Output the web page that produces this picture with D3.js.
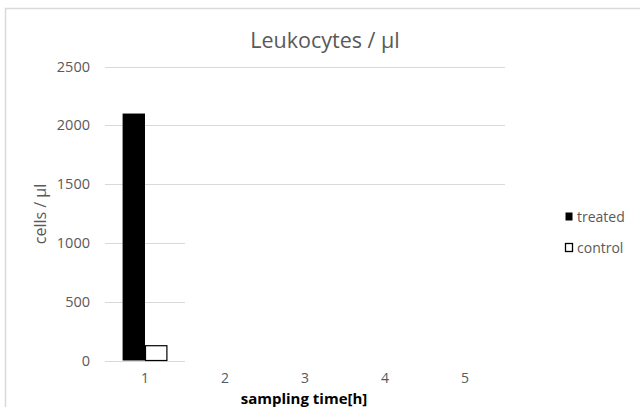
<!DOCTYPE html>
<html><head><meta charset="utf-8">
<script src="https://cdn.jsdelivr.net/npm/d3@7"></script>
<style>body{margin:0;background:#fff}svg{display:block}</style>
</head><body><svg width="640" height="407"></svg>
<script>
const categories = ["1","2","3","4","5"];
const seriesNames = ["treated","control"];
const treated = [2100, null, null, null, null];
const control = [130, null, null, null, null];
const yTicks = [0,500,1000,1500,2000,2500];
const title = "Leukocytes / μl";
const yTitle = "cells / μl";
const xTitle = "sampling time[h]";

(function(){
const svg = d3.select("svg");
const font = "'Open Sans', sans-serif";
const grey = "#595959";
svg.append("rect").attr("x",5.5).attr("y",8.5).attr("width",700).attr("height",500)
  .attr("fill","none").attr("stroke","#d9d9d9").attr("stroke-width",1.5);

const pl=105, pr=505, pt=66.5, pb=360.5;
const x0 = d3.scaleBand().domain(categories).range([pl,pr]).padding(0);
const x1 = d3.scaleBand().domain(seriesNames).range([x0.bandwidth()*0.22, x0.bandwidth()*0.78]).padding(0);
const y = d3.scaleLinear().domain([0,2500]).range([pb,pt]);

const shortEnd = x0(categories[0]) + x0.bandwidth();
svg.append("g").selectAll("line").data(yTicks).join("line")
  .attr("x1",pl).attr("x2",d=> d>=1500 ? pr : shortEnd)
  .attr("y1",d=>Math.round(y(d))+0.5).attr("y2",d=>Math.round(y(d))+0.5)
  .attr("stroke","#d9d9d9").attr("stroke-width",1);

const yAxis = d3.axisLeft(y).tickValues(yTicks).tickFormat(d3.format("d")).tickSize(0).tickPadding(15);
const gy = svg.append("g").attr("transform",`translate(${pl},0)`).call(yAxis);
gy.select(".domain").remove();
gy.selectAll("text").attr("font-family",font).attr("font-size",14.5).attr("fill",grey);

const xAxis = d3.axisBottom(x0).tickSize(0).tickPadding(13);
const gx = svg.append("g").attr("transform",`translate(0,${pb})`).call(xAxis);
gx.select(".domain").remove();
gx.selectAll("text").attr("font-family",font).attr("font-size",14).attr("fill",grey);

const data = [];
categories.forEach((c,i)=>{
  if(treated[i]!=null) data.push({c, s:"treated", v:treated[i]});
  if(control[i]!=null) data.push({c, s:"control", v:control[i]});
});
svg.append("g").selectAll("rect").data(data).join("rect")
  .attr("x",d=>x0(d.c)+x1(d.s)+(d.s==="control"?0.5:0))
  .attr("y",d=>y(d.v)+(d.s==="control"?0.5:0))
  .attr("width",d=>x1.bandwidth()-(d.s==="control"?1:0))
  .attr("height",d=>pb-y(d.v)-(d.s==="control"?0.5:0))
  .attr("fill",d=>d.s==="treated"?"#000":"#fff")
  .attr("stroke",d=>d.s==="treated"?"none":"#000")
  .attr("stroke-width",1.2);

svg.append("text").attr("x",325).attr("y",48).attr("text-anchor","middle")
  .attr("font-family",font).attr("font-size",21.5).attr("fill",grey).text(title);
svg.append("text").attr("transform","translate(46,214) rotate(-90)").attr("text-anchor","middle")
  .attr("font-family",font).attr("font-size",16).attr("fill",grey).text(yTitle);
svg.append("text").attr("x",304).attr("y",404).attr("text-anchor","middle")
  .attr("font-family",font).attr("font-size",15).attr("font-weight","bold").attr("fill","#000").text(xTitle);

const lg = svg.append("g");
seriesNames.forEach((s,i)=>{
  const yy = 217 + i*31;
  lg.append("rect").attr("x",565.5).attr("y",yy-4.5).attr("width",7).attr("height",8)
    .attr("fill",s==="treated"?"#000":"#fff").attr("stroke","#000").attr("stroke-width",s==="treated"?0:1.3);
  lg.append("text").attr("x",577).attr("y",yy).attr("dy","0.35em")
    .attr("font-family",font).attr("font-size",14).attr("fill",grey).text(s);
});
})();
</script></body></html>
